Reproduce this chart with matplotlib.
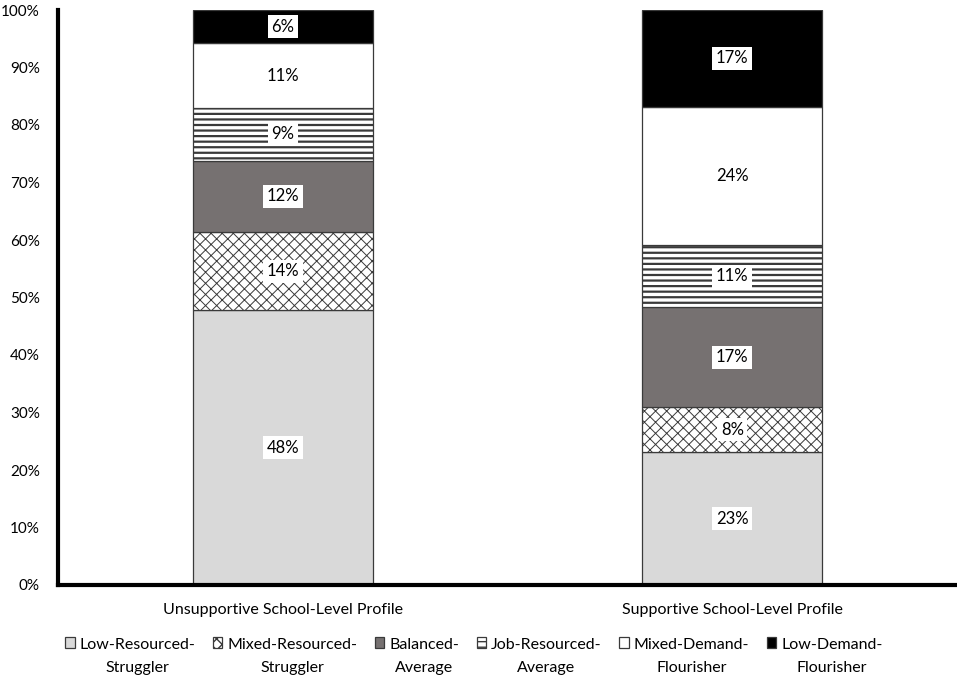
import matplotlib
matplotlib.use("Agg")
import matplotlib.pyplot as plt
from matplotlib.container import BarContainer
from matplotlib.legend_handler import HandlerPatch
from matplotlib.patches import Rectangle
import numpy as np

plt.rcParams["font.family"] = ["Lato", "DejaVu Sans"]

# data (percent of teachers per profile)
groups = ["Unsupportive School-Level Profile", "Supportive School-Level Profile"]
profiles = [
    "Low-Resourced-\nStruggler",
    "Mixed-Resourced-\nStruggler",
    "Balanced-\nAverage",
    "Job-Resourced-\nAverage",
    "Mixed-Demand-\nFlourisher",
    "Low-Demand-\nFlourisher",
]
unsupportive = [47.8, 13.6, 12.4, 9.2, 11.2, 5.8]
supportive = [23.1, 7.8, 17.4, 10.8, 24.1, 16.8]
labels_unsup = ["48%", "14%", "12%", "9%", "11%", "6%"]
labels_sup = ["23%", "8%", "17%", "11%", "24%", "17%"]
yticks = [0, 10, 20, 30, 40, 50, 60, 70, 80, 90, 100]

# styles per profile
facecolors = ["#d9d9d9", "white", "#767171", "white", "white", "black"]
hatches = [None, "xxx", None, "---", None, None]
hatch_lw = [1.0, 0.7, 1.0, 1.6, 1.0, 1.0]


def top_square(legend, orig_handle, xdescent, ydescent, width, height, fontsize):
    # put the legend square next to the first text line, not in the middle
    return Rectangle((-xdescent, -ydescent + 10), width, height)


def copy_first_bar(legend_handle, orig_handle):
    legend_handle.update_from(orig_handle[0])


fig = plt.figure(figsize=(9.57, 6.79), dpi=100)
ax = fig.add_axes([58 / 957, (679 - 585) / 679, 1 - 58 / 957, (585 - 10) / 679])

x = np.arange(len(groups))
data = np.array([unsupportive, supportive])
labels = [labels_unsup, labels_sup]
bottom = np.zeros(len(groups))
handles = []
for i, name in enumerate(profiles):
    plt.rcParams["hatch.linewidth"] = hatch_lw[i]
    bars = ax.bar(x, data[:, i], 0.4, bottom=bottom, color=facecolors[i],
                  edgecolor="#3a3a3a", linewidth=0.9, hatch=hatches[i],
                  label=name, zorder=2)
    handles.append(bars)
    for j in range(len(groups)):
        ax.text(x[j], bottom[j] + data[j, i] / 2, labels[j][i],
                ha="center", va="center", fontsize=12, color="black", zorder=4,
                bbox=dict(facecolor="white", edgecolor="none", pad=2.5))
    bottom += data[:, i]

ax.set_xlim(-0.5, 1.5)
ax.set_ylim(0, 100)
ax.set_yticks(yticks)
ax.set_yticklabels([f"{v}%" for v in yticks], fontsize=11)
ax.set_xticks(x)
ax.set_xticklabels(groups, fontsize=11.5)
ax.tick_params(axis="both", length=0)
ax.tick_params(axis="y", pad=13)
ax.tick_params(axis="x", pad=13)

for s in ["top", "right"]:
    ax.spines[s].set_visible(False)
for s in ["left", "bottom"]:
    ax.spines[s].set_linewidth(3)
    ax.spines[s].set_color("black")

handler = HandlerPatch(patch_func=top_square, update_func=copy_first_bar)
leg = fig.legend(handles=handles, loc="lower center", ncol=6,
                 bbox_to_anchor=(0.495, -0.016), frameon=False, fontsize=11.5,
                 handlelength=0.6, handleheight=0.6, handletextpad=0.3,
                 columnspacing=1.1, handler_map={BarContainer: handler})
for t in leg.get_texts():
    t.set_multialignment("center")
    t.set_linespacing(1.9)

fig.savefig("out.png", dpi=100)
